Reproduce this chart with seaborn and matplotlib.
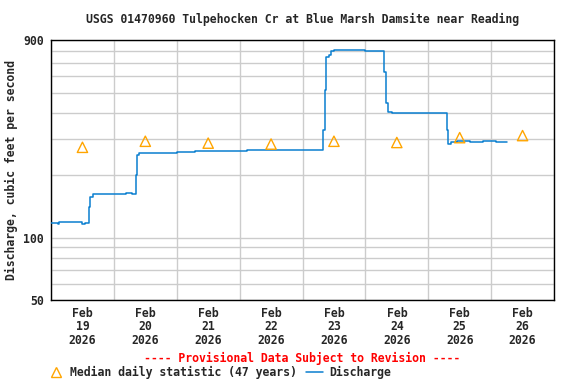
import pandas as pd
import numpy as np
import matplotlib
matplotlib.use("Agg")
import matplotlib.pyplot as plt
import matplotlib.dates as mdates
from matplotlib.ticker import FixedLocator, FixedFormatter, NullFormatter
from matplotlib.lines import Line2D
import seaborn as sns

# Discharge readings (hours after 2026-02-19 00:00, cfs)
hours = [0, 2.5, 3, 12, 13, 14.5, 15.0, 16, 28.8, 31, 32.3, 33, 33.5,
         48, 50, 52, 55, 60, 68, 75, 80, 90, 95, 100,
         104, 104.5, 105, 106, 107, 108, 112, 116, 120, 124,
         127.3, 127.8, 128.5, 130, 135, 140, 145, 150,
         151, 151.5, 152.5, 155, 160, 165, 170, 174]
discharge = [118, 116, 119, 116, 118, 140, 158, 162, 165, 162, 200, 250, 257,
             259, 258, 260, 262, 262, 263, 264, 265, 265, 264, 265,
             331, 517, 748, 760, 800, 805, 808, 805, 800, 797,
             634, 449, 402, 398, 400, 398, 400, 399,
             331, 284, 290, 292, 290, 292, 291, 291]

# Median daily statistic (47 years), one per day at noon
median_days = ["2026-02-19", "2026-02-20", "2026-02-21", "2026-02-22",
               "2026-02-23", "2026-02-24", "2026-02-25", "2026-02-26"]
median_vals = [273, 292, 286, 283, 292, 288, 304, 311]

start = pd.Timestamp("2026-02-19")
df = pd.DataFrame({"time": start + pd.to_timedelta(hours, unit="h"),
                   "cfs": discharge})
med = pd.DataFrame({"time": pd.to_datetime(median_days) + pd.Timedelta(hours=12),
                    "cfs": median_vals})

sns.set_style("white")
plt.rcParams["font.family"] = ["DejaVu Sans Mono"]
plt.rcParams["font.weight"] = "bold"
fs = 8.3

fig = plt.figure(figsize=(5.76, 3.84), dpi=100)
ax = fig.add_axes([51 / 576, 84 / 384, 503 / 576, 260 / 384])

line_color = "#0a7fd0"
tri_color = "#ffa500"

sns.lineplot(data=df, x="time", y="cfs", ax=ax, color=line_color,
             linewidth=1.1, drawstyle="steps-post", zorder=3)
sns.scatterplot(data=med, x="time", y="cfs", ax=ax, marker="^", s=55,
                facecolors="none", edgecolor=tri_color, linewidth=1.0,
                zorder=4)

ax.set_yscale("log")
ax.set_ylim(50, 900)
ax.set_xlim(start, start + pd.Timedelta(days=8))

ax.yaxis.set_major_locator(FixedLocator([50, 100, 900]))
ax.yaxis.set_major_formatter(FixedFormatter(["50", "100", "900"]))
ax.yaxis.set_minor_locator(FixedLocator([60, 70, 80, 90, 200, 300, 400, 500, 600, 700, 800]))
ax.yaxis.set_minor_formatter(NullFormatter())

ax.xaxis.set_major_locator(mdates.HourLocator(byhour=[12]))
ax.xaxis.set_major_formatter(mdates.DateFormatter("%b\n%d\n%Y"))
ax.xaxis.set_minor_locator(mdates.DayLocator())

ax.grid(which="minor", color="#cccccc", linewidth=1.0)
ax.grid(which="major", axis="y", color="#cccccc", linewidth=1.0)
ax.tick_params(which="both", length=0)
ax.tick_params(axis="y", pad=5, labelsize=fs)
ax.tick_params(axis="x", pad=5, labelsize=fs)
for lab in ax.get_xticklabels() + ax.get_yticklabels():
    lab.set_fontweight("bold")
for lab in ax.get_xticklabels():
    lab.set_linespacing(1.05)

for sp in ax.spines.values():
    sp.set_color("black")
    sp.set_linewidth(1.0)

ax.set_xlabel("")
ax.set_ylabel("Discharge, cubic feet per second", fontsize=fs,
              fontweight="bold", labelpad=4)

fig.text(302.5 / 576, 1 - 19 / 384,
         "USGS 01470960 Tulpehocken Cr at Blue Marsh Damsite near Reading",
         ha="center", va="center", fontsize=fs, fontweight="bold")
fig.text(302.5 / 576, 1 - 358 / 384,
         "---- Provisional Data Subject to Revision ----",
         ha="center", va="center", fontsize=fs, fontweight="bold", color="red")

handles = [Line2D([], [], marker="^", linestyle="none", markersize=7.5,
                  markerfacecolor="none", markeredgecolor=tri_color,
                  markeredgewidth=1.0),
           Line2D([], [], color=line_color, linewidth=1.1)]
fig.legend(handles, ["Median daily statistic (47 years)", "Discharge"],
           loc="center left", bbox_to_anchor=(47 / 576, 1 - 372 / 384),
           ncol=2, frameon=False, handlelength=1.5,
           handletextpad=0.5, columnspacing=0.8, borderpad=0, borderaxespad=0,
           prop={"weight": "bold", "size": fs})

fig.savefig("out.png", dpi=100)
